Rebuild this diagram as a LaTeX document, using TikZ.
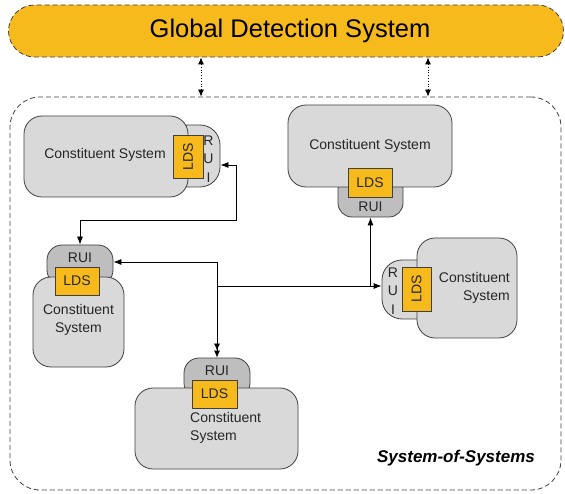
\documentclass[tikz,border=0pt]{standalone}
\usepackage{fontspec}
\setmainfont{Liberation Sans}
\usetikzlibrary{arrows.meta,calc}
\definecolor{gold}{HTML}{F6BA1C}
\definecolor{csgray}{HTML}{D9D9D9}
\definecolor{ruigray}{HTML}{BEBEBE}
\definecolor{edge}{HTML}{404040}
\definecolor{txt}{HTML}{262626}
\begin{document}
\begin{tikzpicture}[x=1pt,y=-1pt,
  shp/.style={draw=edge, line width=0.8pt, rectangle, inner sep=0pt},
  csbox/.style={shp, fill=csgray, rounded corners=18pt},
  ruih/.style={shp, fill=ruigray, rounded corners=15pt},
  ruiv/.style={shp, fill=csgray, rounded corners=20pt},
  ldsbox/.style={shp, fill=gold},
  lbl/.style={font=\fontsize{14}{17}\selectfont, text=txt, inner sep=0pt},
  dashline/.style={draw=edge, line width=0.8pt, dash pattern=on 5pt off 3pt},
  arr/.style={line width=0.8pt, black, -{Latex[length=8pt,width=6pt]}},
  darr/.style={line width=0.8pt, black, -{Latex[length=7pt,width=6pt]Latex[length=7pt,width=6pt]}},
  dotarr/.style={line width=0.8pt, black, dotted, {Latex[length=7pt,width=6pt]}-{Latex[length=7pt,width=6pt]}}
]
\useasboundingbox (0,0) rectangle (565,494);

% Global detection system
\node[dashline, fill=gold, rectangle, rounded corners=26pt, minimum width=555pt, minimum height=52pt, inner sep=0pt] (gds) at (286,31) {};
\node[font=\fontsize{25.5}{30}\selectfont, inner sep=0pt] (gdst) at (290,31) {Global Detection System};

% System of systems
\node[dashline, rectangle, rounded corners=30pt, minimum width=551pt, minimum height=393pt, inner sep=0pt] (sos) at (285.5,293.5) {};
\node[font=\fontsize{17}{20}\selectfont\bfseries\itshape, inner sep=0pt] (sost) at (456,458) {System-of-Systems};

\coordinate (d1) at (201,0);
\coordinate (d2) at (428,0);
\draw[dotarr] (gds.south -| d1) -- (sos.north -| d1);
\draw[dotarr] (gds.south -| d2) -- (sos.north -| d2);

% Top-left constituent system
\node[ruiv, minimum width=52pt, minimum height=62pt] (rui1) at (194,156) {};
\node[csbox, minimum width=164pt, minimum height=81pt] (cs1) at (106,156.5) {};
\node[ldsbox, minimum width=30pt, minimum height=43pt] (lds1) at (188,156.5) {};
\node[lbl, rotate=90] (lds1t) at (188,156.5) {LDS};
\node[lbl, align=center, font=\fontsize{14}{18.5}\selectfont] (rui1t) at (208.5,159) {R\\U\\I};
\node[lbl] (cs1t) at (105,155) {Constituent System};

% Top-right constituent system
\node[ruih, rounded corners=14pt, minimum width=65pt, minimum height=42pt] (rui2) at (370.5,196) {};
\node[csbox, minimum width=164pt, minimum height=82pt] (cs2) at (370,146) {};
\node[ldsbox, minimum width=44pt, minimum height=29pt] (lds2) at (370,182.5) {};
\node[lbl] (lds2t) at (370,182.5) {LDS};
\node[lbl] (rui2t) at (370.5,207) {RUI};
\node[lbl] (cs2t) at (370,146) {Constituent System};

% Left-middle constituent system
\node[ruih, minimum width=66pt, minimum height=40pt] (rui3) at (80,265) {};
\node[csbox, minimum width=91pt, minimum height=90pt] (cs3) at (78.5,322) {};
\node[ldsbox, minimum width=44pt, minimum height=28pt] (lds3) at (77,281) {};
\node[lbl] (lds3t) at (77,281) {LDS};
\node[lbl] (rui3t) at (80,257.5) {RUI};
\node[lbl, align=center, font=\fontsize{14}{17.5}\selectfont] (cs3t) at (78.5,320) {Constituent\\System};

% Right constituent system
\node[ruiv, minimum width=58pt, minimum height=59pt] (rui4) at (411,289.5) {};
\node[csbox, minimum width=100pt, minimum height=100pt] (cs4) at (467,288) {};
\node[ldsbox, minimum width=29pt, minimum height=44pt] (lds4) at (416.5,289) {};
\node[lbl, rotate=90] (lds4t) at (416.5,289) {LDS};
\node[lbl, align=center, font=\fontsize{14}{18.5}\selectfont] (rui4t) at (393,291) {R\\U\\I};
\node[lbl, align=right, font=\fontsize{14}{17.5}\selectfont, anchor=east] (cs4t) at (510,288) {Constituent\\System};

% Bottom constituent system
\node[ruih, minimum width=66pt, minimum height=40pt] (rui5) at (217,378) {};
\node[csbox, minimum width=163pt, minimum height=81pt] (cs5) at (216.5,428.5) {};
\node[ldsbox, minimum width=45pt, minimum height=28pt] (lds5) at (214.5,394) {};
\node[lbl] (lds5t) at (214.5,394) {LDS};
\node[lbl] (rui5t) at (217,371) {RUI};
\node[lbl, align=left, anchor=west, font=\fontsize{14}{17.5}\selectfont] (cs5t) at (190,428) {Constituent\\System};

% Connectors
\coordinate (j1) at (236,220);
\coordinate (j2) at (217,262);
\coordinate (j3) at (217,286);
\draw[line width=0.8pt, black, {Latex[length=8pt,width=6pt]}-{Latex[length=8pt,width=6pt]}]
  ([yshift=-9pt]rui1.east) -| (j1) -| (rui3.north);
\draw[arr] (j2) -- (rui3.east |- j2);
\draw[darr] (j2) -- (rui5.north);
\draw[arr] (j3) -- (rui4.west |- j3);
\draw[arr] (rui2.south |- j3) -- (rui2.south);
\end{tikzpicture}
\end{document}
